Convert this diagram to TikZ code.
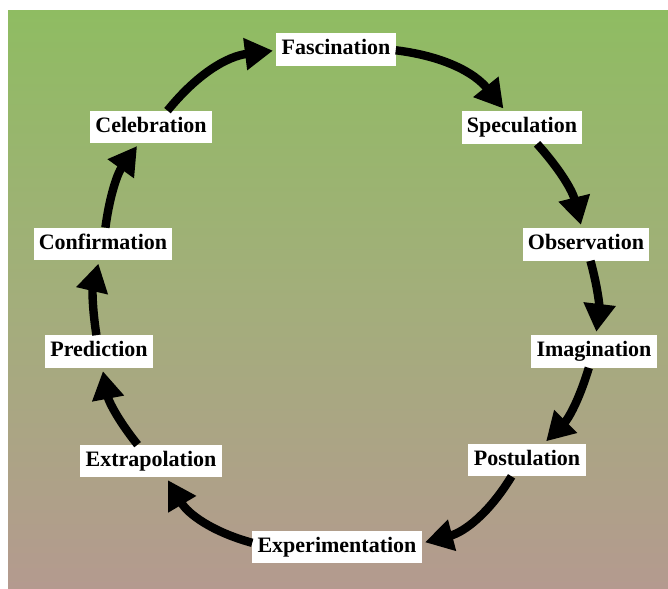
\documentclass[tikz,border=0pt]{standalone}
\usepackage{fontspec}
\setmainfont{Liberation Serif}
\usetikzlibrary{arrows.meta}
\definecolor{topgreen}{RGB}{143,188,98}
\definecolor{midtone}{RGB}{163,174,123}
\definecolor{bottombrown}{RGB}{180,154,143}
\tikzset{
  lbl/.style={fill=white, inner xsep=4pt, inner ysep=0pt,
    minimum height=24.5pt, text height=11.5pt, text depth=3.5pt,
    font=\fontsize{16.5}{19}\selectfont\bfseries, outer sep=0pt},
  cyclearrow/.style={line width=6.3pt, -{Triangle[length=21pt,width=23pt]},
    shorten >=2.5pt}
}
\begin{document}
\begin{tikzpicture}[x=0.75pt, y=0.75pt]
  \useasboundingbox (0,0) rectangle (668,589);
  % shaded backdrop
  \shade[top color=topgreen, bottom color=bottombrown, middle color=midtone]
    (8,0) rectangle (668,578);

  % stages of the cycle
  \node[lbl] (fas) at (336,539.5) {Fascination};
  \node[lbl] (spe) at (522,461.5) {Speculation};
  \node[lbl] (obs) at (586,344.5) {Observation};
  \node[lbl] (ima) at (594,237.5) {Imagination};
  \node[lbl] (pos) at (527,129) {Postulation};
  \node[lbl] (exp) at (337,42) {Experimentation};
  \node[lbl] (ext) at (151,128) {Extrapolation};
  \node[lbl] (pre) at (99,237.5) {Prediction};
  \node[lbl] (con) at (103,345) {Confirmation};
  \node[lbl] (cel) at (151,462) {Celebration};

  % clockwise arrows along the circle
  \draw[cyclearrow] (fas) to[bend left=22] (spe);
  \draw[cyclearrow] (spe) to[bend left=14] (obs);
  \draw[cyclearrow] (obs) to[bend left=11] (ima);
  \draw[cyclearrow] (ima) to[bend left=14] (pos);
  \draw[cyclearrow] (pos) to[bend left=22] (exp);
  \draw[cyclearrow] (exp) to[bend left=22] (ext);
  \draw[cyclearrow] (ext) to[bend left=14] (pre);
  \draw[cyclearrow] (pre) to[bend left=11] (con);
  \draw[cyclearrow] (con) to[bend left=14] (cel);
  \draw[cyclearrow] (cel) to[bend left=22] (fas);
\end{tikzpicture}
\end{document}
